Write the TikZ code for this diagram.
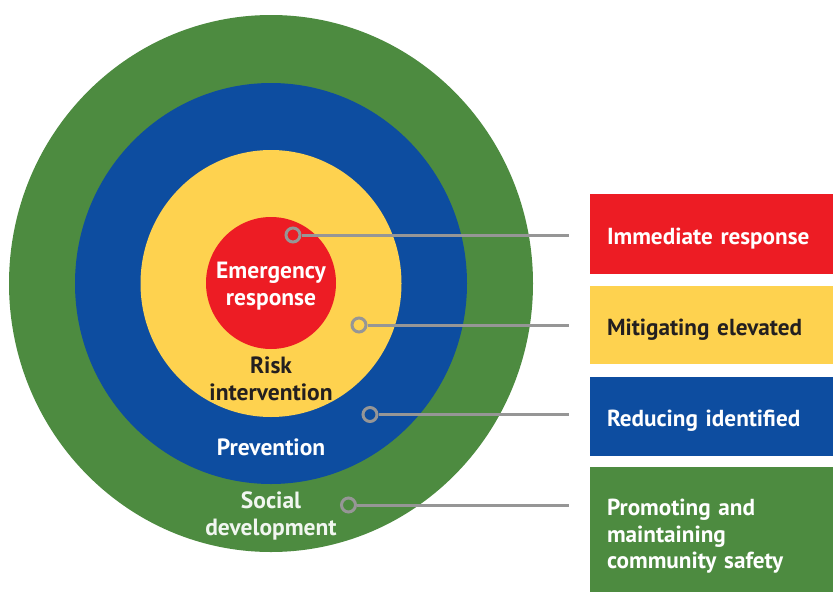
\documentclass[tikz,border=0pt]{standalone}
\usepackage{fontspec}
\setmainfont{PT Sans}
\usepackage{tikz}
\usetikzlibrary{shapes.geometric}

\definecolor{ringgreen}{RGB}{77,139,64}
\definecolor{ringblue}{RGB}{13,77,160}
\definecolor{ringyellow}{RGB}{254,210,79}
\definecolor{ringred}{RGB}{237,28,36}
\definecolor{linkgray}{RGB}{150,150,150}
\definecolor{darktext}{RGB}{35,31,32}

\tikzset{
  ring/.style={ellipse, inner sep=0pt},
  ringtext/.style={font=\bfseries\fontsize{23.5}{27}\selectfont, align=center},
  dot/.style={circle, draw=linkgray, line width=3pt, minimum size=14pt, inner sep=0pt},
  link/.style={draw=linkgray, line width=3pt},
  legend/.style={minimum width=243pt, inner xsep=17pt, inner ysep=0pt, text width=209pt, align=left,
    font=\bfseries\fontsize{23.2}{26.5}\selectfont}
}

\begin{document}
\begin{tikzpicture}[x=1pt, y=-1pt]
\useasboundingbox (0,0) rectangle (833,592);
%\draw [lightgray](0,0) grid[step=50] (833,592);

% rings
\node [ring, fill=ringgreen, minimum width=524pt, minimum height=537pt] (social) at (271,283.5) {};
\node [ring, fill=ringblue, minimum width=392pt, minimum height=401pt] (prev) at (271,283.5) {};
\node [ring, fill=ringyellow, minimum width=261pt, minimum height=267pt] (risk) at (271,283.5) {};
\node [ring, fill=ringred, minimum width=130pt, minimum height=132pt] (emerg) at (271,283) {};

\node [ringtext, white] (emergtext) at (271,286) {Emergency\\response};
\node [ringtext, darktext] (risktext) at (271,378.5) {Risk\\intervention};
\node [ringtext, white] (prevtext) at (271,447) {Prevention};
\node [ringtext, white!92!ringgreen] (socialtext) at (271,516) {Social\\development};

% legend boxes
\node [legend, fill=ringred, text=white, minimum height=80pt, text height=21pt, text depth=1pt] (immediate) at (711.5,234) {Immediate response};
\node [legend, fill=ringyellow, text=darktext, minimum height=78pt, text height=21pt, text depth=1pt] (mitigating) at (711.5,325) {Mitigating elevated};
\node [legend, fill=ringblue, text=white, minimum height=79pt, text height=21pt, text depth=1pt] (reducing) at (711.5,416.5) {Reducing identified};
\node [fill=ringgreen, minimum width=243pt, minimum height=125pt] (promoting) at (711.5,529.5) {};
\node [legend, text=white] (promotingtext) at (711.5,536.5) {Promoting and\\maintaining\\community safety};

% dots and links
\node [dot] (d1) at (293,235) {};
\node [dot] (d2) at (359,325) {};
\node [dot] (d3) at (370,414.5) {};
\node [dot] (d4) at (348.5,505) {};

\coordinate (e1) at (569,235);
\coordinate (e2) at (569,325);
\coordinate (e3) at (569,414.5);
\coordinate (e4) at (569,505);

\draw [link] (d1) -- (e1);
\draw [link] (d2) -- (e2);
\draw [link] (d3) -- (e3);
\draw [link] (d4) -- (e4);
\end{tikzpicture}
\end{document}
